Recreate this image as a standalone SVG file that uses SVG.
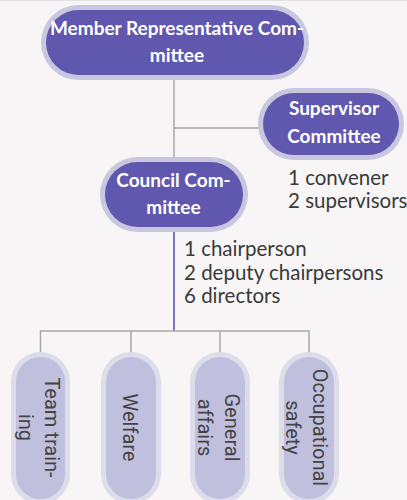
<svg xmlns="http://www.w3.org/2000/svg" width="407" height="500" viewBox="0 0 407 500">
  <style>
    .main rect.ring { fill: #c9c6e0; }
    .main rect.core { fill: #6058ae; }
    .main text { font-family: Lato, "Open Sans", sans-serif; font-weight: bold; font-size: 19px; fill: #ffffff; text-anchor: middle; }
    .sub rect.ring { fill: #dcdcea; }
    .sub rect.core { fill: #c0bfdd; }
    .sub text { font-family: Roboto, "Open Sans", sans-serif; font-size: 20px; fill: #444444; text-anchor: middle; }
    .note { font-family: Lato, "Open Sans", sans-serif; font-size: 20.5px; fill: #3a3a3a; }
    .link { fill: none; stroke: #a8a8a8; stroke-width: 1.5; }
    .link-main { fill: none; stroke: #7b72c9; stroke-width: 2; }
  </style>

  <!-- page -->
  <rect x="0" y="0" width="407" height="500" fill="#f8f5f6"/>
  <line x1="0" y1="0.5" x2="407" y2="0.5" stroke="#e2e0e2" stroke-width="1"/>

  <!-- connectors -->
  <g id="connectors">
    <path class="link" d="M174 80 V157 M174 128 H260"/>
    <path class="link-main" d="M174 232 V331"/>
    <path class="link" d="M40.5 331 H309 M40.5 330.3 V353 M131 330.3 V353 M220 330.3 V353 M309 330.3 V353"/>
  </g>

  <!-- upper level -->
  <g id="member-representative-committee" class="main">
    <rect class="ring" x="41" y="5" width="268" height="75" rx="37.5"/>
    <rect class="core" x="46" y="10" width="258" height="65" rx="32.5"/>
    <text x="177" y="35">Member Representative Com-</text>
    <text x="177" y="62">mittee</text>
  </g>

  <g id="supervisor-committee" class="main">
    <rect class="ring" x="258" y="88" width="146" height="72" rx="36"/>
    <rect class="core" x="263" y="93" width="136" height="62" rx="31"/>
    <text x="334" y="115">Supervisor</text>
    <text x="334" y="142.5">Committee</text>
  </g>

  <g id="council-committee" class="main">
    <rect class="ring" x="100" y="157" width="148" height="75" rx="37.5"/>
    <rect class="core" x="105" y="162" width="138" height="65" rx="32.5"/>
    <text x="173.5" y="187">Council Com-</text>
    <text x="173.5" y="214">mittee</text>
  </g>

  <!-- member counts -->
  <g id="supervisor-members">
    <text class="note" x="288" y="185">1 convener</text>
    <text class="note" x="288" y="208">2 supervisors</text>
  </g>
  <g id="council-members">
    <text class="note" x="184" y="256">1 chairperson</text>
    <text class="note" x="184" y="279.5">2 deputy chairpersons</text>
    <text class="note" x="184" y="303">6 directors</text>
  </g>

  <!-- departments -->
  <g id="team-training" class="sub">
    <rect class="ring" x="11" y="352" width="59" height="152" rx="29.5"/>
    <rect class="core" x="16" y="357" width="49" height="142" rx="24.5"/>
    <g transform="translate(40.5 427.5) rotate(90)">
      <text x="0" y="-4">Team train-</text>
      <text x="0" y="22">ing</text>
    </g>
  </g>

  <g id="welfare" class="sub">
    <rect class="ring" x="101" y="352" width="60" height="152" rx="30"/>
    <rect class="core" x="106" y="357" width="50" height="142" rx="25"/>
    <g transform="translate(131 427.5) rotate(90)">
      <text x="0" y="8">Welfare</text>
    </g>
  </g>

  <g id="general-affairs" class="sub">
    <rect class="ring" x="190" y="352" width="60" height="152" rx="30"/>
    <rect class="core" x="195" y="357" width="50" height="142" rx="25"/>
    <g transform="translate(220 427.5) rotate(90)">
      <text x="0" y="-4.5">General</text>
      <text x="0" y="22.5">affairs</text>
    </g>
  </g>

  <g id="occupational-safety" class="sub">
    <rect class="ring" x="279" y="352" width="60" height="152" rx="30"/>
    <rect class="core" x="284" y="357" width="50" height="142" rx="25"/>
    <g transform="translate(309 427.5) rotate(90)">
      <text x="0" y="-4">Occupational</text>
      <text x="0" y="23">safety</text>
    </g>
  </g>
</svg>
